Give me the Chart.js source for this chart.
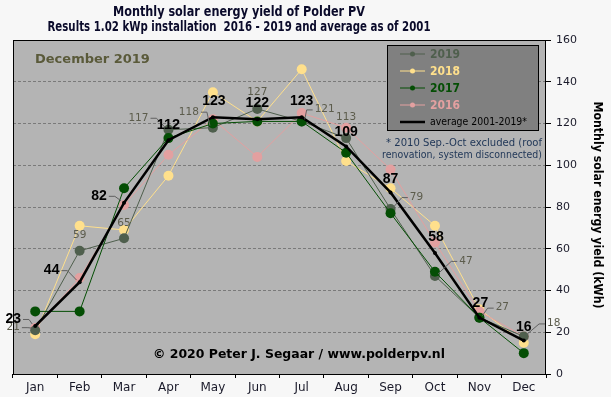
<!DOCTYPE html>
<html>
<head>
<meta charset="utf-8">
<script src="https://cdn.jsdelivr.net/npm/chart.js@4"></script>
<style>
  html, body { margin: 0; padding: 0; background: #f7f7f7; }
  #wrap { width: 611px; height: 397px; }
</style>
</head>
<body>
<div id="wrap"><canvas id="pvChart" width="611" height="397"></canvas></div>
<script>
// ---------- DATA ----------
const months = ["Jan", "Feb", "Mar", "Apr", "May", "Jun", "Jul", "Aug", "Sep", "Oct", "Nov", "Dec"];
const yield2019 = [21, 59, 65, 117, 118, 127, 121, 113, 79, 47, 27, 18];
const yield2018 = [19, 71, 69, 95, 135, 121, 146, 102, 89, 71, 31, 15];
const yield2017 = [30, 30, 89, 113, 120, 121, 121, 106, 77, 49, 27, 10];
const yield2016 = [22, 46, 81, 105, 122, 104, 125, 118, 98, 63, 30, 18];
const average = [23, 44, 82, 112, 123, 122, 123, 109, 87, 58, 27, 16];
const yTicks = [0, 20, 40, 60, 80, 100, 120, 140, 160];

const titleLines = [
    "Monthly solar energy yield of Polder PV",
    "Results 1.02 kWp installation  2016 - 2019 and average as of 2001"
];
const axisTitle = "Monthly solar energy yield (kWh)";

// colours
const C2019 = "#4f5f4d";
const C2018 = "#ffe08c";
const C2017 = "#044e04";
const C2016 = "#e3a0a0";

// label offsets (relative to the point), layout only
const avgDx = [-22, -28, -25, 0, 1, 0, 0, 0, 0, 1, 1, 0];
const avgDy = [-7, -12, -7, -15, -16, -16, -16, -15, -14, -16, -15, -14];
const lblDx = [-22, 0, 0, -30, -24, 0, 23, 0, 26, 31, 23, 30];
const lblDy = [-3, -16, -15, -12, -16, -17, -12, -21, -12, -15, -10, -13];

// ---------- PLUGINS ----------
const frame = {
    id: "frame",
    beforeDraw(chart) {
        const { ctx, chartArea: a } = chart;
        ctx.save();
        ctx.fillStyle = "#b4b4b4";
        ctx.fillRect(a.left, a.top, a.right - a.left, a.bottom - a.top);
        ctx.restore();
    },
    afterDraw(chart) {
        const { ctx, chartArea: a } = chart;
        ctx.save();
        ctx.strokeStyle = "#000";
        ctx.lineWidth = 1;
        ctx.strokeRect(a.left + 0.5, a.top + 0.5, a.right - a.left - 1, a.bottom - a.top);

        // titles
        ctx.fillStyle = "#0a0a2a";
        ctx.textAlign = "center";
        ctx.textBaseline = "middle";
        ctx.font = "bold 14px 'DejaVu Sans'";
        ctx.fillText(titleLines[0], 239, 12, 252);
        ctx.fillText(titleLines[1], 239, 27, 383);

        // axis title, rotated
        ctx.save();
        ctx.translate(597, 205);
        ctx.rotate(Math.PI / 2);
        ctx.font = "bold 12px 'DejaVu Sans'";
        ctx.fillStyle = "#000";
        ctx.fillText(axisTitle, 0, 0, 207);
        ctx.restore();

        // period
        ctx.textAlign = "left";
        ctx.font = "bold 13px 'DejaVu Sans'";
        ctx.fillStyle = "#5a5a3a";
        ctx.fillText("December 2019", 35, 60, 115);

        // footnote
        ctx.textAlign = "right";
        ctx.font = "11px 'DejaVu Sans'";
        ctx.fillStyle = "#1e3556";
        ctx.fillText("* 2010 Sep.-Oct excluded (roof", 542, 143, 156);
        ctx.fillText("renovation, system disconnected)", 542, 155, 160);

        // copyright
        ctx.textAlign = "left";
        ctx.font = "bold 13px 'DejaVu Sans'";
        ctx.fillStyle = "#000";
        ctx.fillText("\u00a9 2020 Peter J. Segaar / www.polderpv.nl", 153, 355, 292);

        // legend
        ctx.fillStyle = "#808080";
        ctx.fillRect(387, 45, 151, 85);
        ctx.strokeStyle = "#000";
        ctx.strokeRect(387.5, 45.5, 151, 85);
        const entries = [
            ["2019", C2019, 54], ["2018", C2018, 71],
            ["2017", C2017, 88], ["2016", C2016, 105]
        ];
        entries.forEach(([txt, col, y]) => {
            ctx.strokeStyle = col;
            ctx.lineWidth = 1;
            ctx.beginPath(); ctx.moveTo(400, y); ctx.lineTo(425, y); ctx.stroke();
            ctx.fillStyle = col;
            ctx.beginPath(); ctx.arc(412.5, y, 2.5, 0, Math.PI * 2); ctx.fill();
            ctx.font = "bold 12px 'DejaVu Sans'";
            ctx.fillText(txt, 430, y + 1, 30);
        });
        ctx.strokeStyle = "#000";
        ctx.lineWidth = 2.5;
        ctx.beginPath(); ctx.moveTo(400, 122); ctx.lineTo(425, 122); ctx.stroke();
        ctx.fillStyle = "#000";
        ctx.font = "11px 'DejaVu Sans'";
        ctx.fillText("average 2001-2019*", 430, 122, 97);
        ctx.restore();
    }
};

const valueLabels = {
    id: "valueLabels",
    afterDatasetsDraw(chart) {
        const ctx = chart.ctx;
        const pts2019 = chart.getDatasetMeta(0).data;
        const ptsAvg = chart.getDatasetMeta(4).data;
        ctx.save();
        ctx.textAlign = "center";
        ctx.textBaseline = "middle";

        const draw = (pts, vals, dx, dy, font, color, maxW) => {
            pts.forEach((p, i) => {
                const txt = String(vals[i]);
                const cx = p.x + dx[i], cy = p.y + dy[i];
                ctx.font = font;
                const w = Math.min(ctx.measureText(txt).width, maxW * txt.length);
                if (Math.abs(dx[i]) > 10) {
                    ctx.strokeStyle = "#606060";
                    ctx.lineWidth = 1;
                    const sx = dx[i] < 0 ? cx + w / 2 + 2 : cx - w / 2 - 2;
                    const ex = dx[i] < 0 ? sx + 6 : sx - 6;
                    ctx.beginPath();
                    ctx.moveTo(sx, cy + 0.5);
                    ctx.lineTo(ex, cy + 0.5);
                    ctx.lineTo(p.x + (dx[i] < 0 ? -3 : 3), p.y - 2);
                    ctx.stroke();
                }
                ctx.fillStyle = color;
                ctx.fillText(txt, cx, cy, maxW * txt.length);
            });
        };
        draw(pts2019, yield2019, lblDx, lblDy, "11px 'DejaVu Sans'", "#5c5c4c", 6.7);
        draw(ptsAvg, average, avgDx, avgDy, "bold 15px 'Liberation Sans'", "#000", 7.8);
        ctx.restore();
    }
};

// ---------- CHART ----------
function series(label, data, color, order) {
    return {
        label, data, order,
        borderColor: color,
        backgroundColor: color,
        borderWidth: 1,
        pointRadius: 5,
        pointBorderWidth: 0,
        pointBackgroundColor: color,
        tension: 0
    };
}

const chart = new Chart(document.getElementById("pvChart"), {
    type: "line",
    data: {
        labels: months,
        datasets: [
            series("2019", yield2019, C2019, 2),
            series("2018", yield2018, C2018, 4),
            series("2017", yield2017, C2017, 1),
            series("2016", yield2016, C2016, 3),
            {
                label: "average 2001-2019*", data: average, order: 0,
                borderColor: "#000", backgroundColor: "#000",
                borderWidth: 2.5, pointRadius: 2, pointBorderWidth: 0, tension: 0
            }
        ]
    },
    options: {
        responsive: false,
        animation: false,
        layout: { padding: { left: 13, top: 40, right: 0, bottom: 0 } },
        plugins: {
            legend: { display: false },
            tooltip: { enabled: false },
            title: { display: false }
        },
        scales: {
            x: {
                offset: true,
                grid: {
                    offset: true, drawOnChartArea: false, drawTicks: true,
                    tickLength: 4, tickColor: "#000", color: "#000"
                },
                border: { display: false },
                ticks: { color: "#1a1a2a", font: { family: "DejaVu Sans", size: 12 }, padding: 3 },
                afterFit(s) { s.height = 23; }
            },
            y: {
                position: "right",
                min: 0, max: 160,
                afterBuildTicks(s) { s.ticks = yTicks.map(v => ({ value: v })); },
                grid: {
                    color: "#7a7a7a", lineWidth: 1,
                    tickLength: 5, tickColor: "#000", tickBorderDash: []
                },
                border: { display: false, dash: [3, 2] },
                ticks: { color: "#1a1a2a", font: { family: "DejaVu Sans", size: 11 }, padding: 5 },
                afterFit(s) { s.width = 65; }
            }
        }
    },
    plugins: [frame, valueLabels]
});
</script>
</body>
</html>
